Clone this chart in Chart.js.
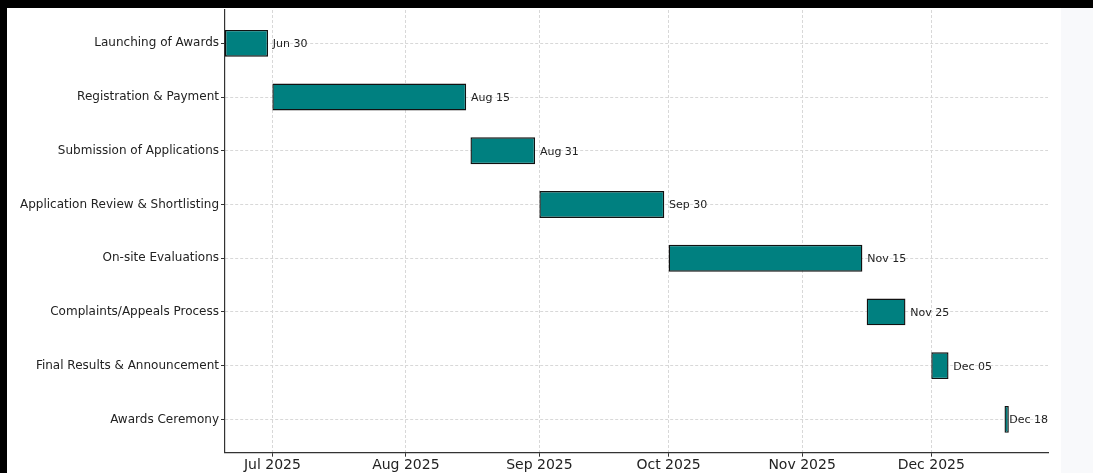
<!DOCTYPE html>
<html>
<head>
<meta charset="utf-8">
<script src="https://cdn.jsdelivr.net/npm/chart.js@4.4.1/dist/chart.umd.min.js"></script>
<style>
    body { margin: 0; background: #000; width: 1093px; height: 473px; overflow: hidden; position: relative; }
    #panel { position: absolute; left: 7px; top: 8px; width: 1054px; height: 465px; background: #fff; }
    #side { position: absolute; left: 1061px; top: 8px; width: 32px; height: 465px; background: #f8f9fb; }
    canvas { display: block; }
</style>
</head>
<body>
<div id="panel"><canvas id="ganttChart" width="1054" height="465"></canvas></div>
<div id="side"></div>
<script>
// Task data
const taskNames = [
    'Launching of Awards',
    'Registration & Payment',
    'Submission of Applications',
    'Application Review & Shortlisting',
    'On-site Evaluations',
    'Complaints/Appeals Process',
    'Final Results & Announcement',
    'Awards Ceremony'
];
const startDates = ['2025-06-20', '2025-07-01', '2025-08-16', '2025-09-01', '2025-10-01', '2025-11-16', '2025-12-01', '2025-12-18'];
const endDates = ['2025-06-30', '2025-08-15', '2025-08-31', '2025-09-30', '2025-11-15', '2025-11-25', '2025-12-05', '2025-12-18'];
const endLabels = ['Jun 30', 'Aug 15', 'Aug 31', 'Sep 30', 'Nov 15', 'Nov 25', 'Dec 05', 'Dec 18'];

// x axis ticks (month starts)
const monthTicks = ['2025-07-01', '2025-08-01', '2025-09-01', '2025-10-01', '2025-11-01', '2025-12-01'];
const monthLabels = ['Jul 2025', 'Aug 2025', 'Sep 2025', 'Oct 2025', 'Nov 2025', 'Dec 2025'];

// days since epoch, so a plain linear scale works without a date adapter
function toDay(s) {
    const p = s.split('-').map(Number);
    return Date.UTC(p[0], p[1] - 1, p[2]) / 86400000;
}

// one-day events still get a one-day bar
const bars = taskNames.map(function(name, i) {
    const s = toDay(startDates[i]);
    return { x: [s, Math.max(toDay(endDates[i]), s + 1)], y: i };
});

const xMin = Math.min.apply(null, bars.map(function(b) { return b.x[0]; }));
const lastEnd = Math.max.apply(null, bars.map(function(b) { return b.x[1]; }));
const xMax = lastEnd + 0.05 * (lastEnd - xMin);
const tickDays = monthTicks.map(toDay);

// write the end date next to each bar (one day after the end date)
const endLabelPlugin = {
    id: 'endLabels',
    afterDatasetsDraw: function(chart) {
        const ctx = chart.ctx;
        const meta = chart.getDatasetMeta(0);
        const xScale = chart.scales.x;
        ctx.save();
        ctx.font = '11px "DejaVu Sans"';
        ctx.fillStyle = '#222';
        ctx.textAlign = 'left';
        ctx.textBaseline = 'middle';
        meta.data.forEach(function(bar, i) {
            const p = bar.getProps(['y'], true);
            const x = xScale.getPixelForValue(toDay(endDates[i]) + 1);
            ctx.fillText(endLabels[i], x + 0.5, p.y + 1);
        });
        ctx.restore();
    }
};

new Chart(document.getElementById('ganttChart'), {
    type: 'bar',
    data: {
        datasets: [{
            data: bars,
            backgroundColor: '#008080',
            borderColor: '#111',
            borderWidth: 1.4,
            borderSkipped: false,
            barPercentage: 0.5,
            categoryPercentage: 1.0
        }]
    },
    options: {
        indexAxis: 'y',
        responsive: false,
        animation: false,
        layout: {
            padding: { top: 2, right: 13, left: 0, bottom: 0 }
        },
        plugins: {
            legend: { display: false },
            tooltip: { enabled: false }
        },
        scales: {
            x: {
                type: 'linear',
                min: xMin,
                max: xMax,
                offset: false,
                afterBuildTicks: function(scale) {
                    scale.ticks = tickDays.map(function(d) { return { value: d }; });
                },
                afterFit: function(scale) {
                    scale.height = 20.3;
                    scale.paddingLeft = 0;
                    scale.paddingRight = 0;
                },
                ticks: {
                    autoSkip: false,
                    maxRotation: 0,
                    padding: 0,
                    color: '#222',
                    font: { family: 'DejaVu Sans', size: 14 },
                    callback: function(value) {
                        return monthLabels[tickDays.indexOf(value)];
                    }
                },
                grid: {
                    offset: false,
                    color: '#d8d8d8',
                    tickLength: 4,
                    tickColor: '#333',
                    tickBorderDash: []
                },
                border: { color: '#333', width: 1.2, dash: [3, 2] }
            },
            y: {
                type: 'linear',
                reverse: true,
                offset: false,
                min: -0.62,
                max: taskNames.length - 1 + 0.62,
                afterBuildTicks: function(scale) {
                    scale.ticks = taskNames.map(function(_, i) { return { value: i }; });
                },
                afterFit: function(scale) {
                    scale.width = 218;
                    scale.paddingTop = 0;
                    scale.paddingBottom = 0;
                },
                ticks: {
                    autoSkip: false,
                    padding: 2,
                    color: '#222',
                    font: { family: 'DejaVu Sans', size: 12 },
                    callback: function(value) {
                        return taskNames[value];
                    }
                },
                grid: {
                    offset: false,
                    color: '#d8d8d8',
                    tickLength: 4,
                    tickColor: '#333',
                    tickBorderDash: []
                },
                border: { color: '#333', width: 1.2, dash: [3, 2] }
            }
        }
    },
    plugins: [endLabelPlugin]
});
</script>
</body>
</html>
